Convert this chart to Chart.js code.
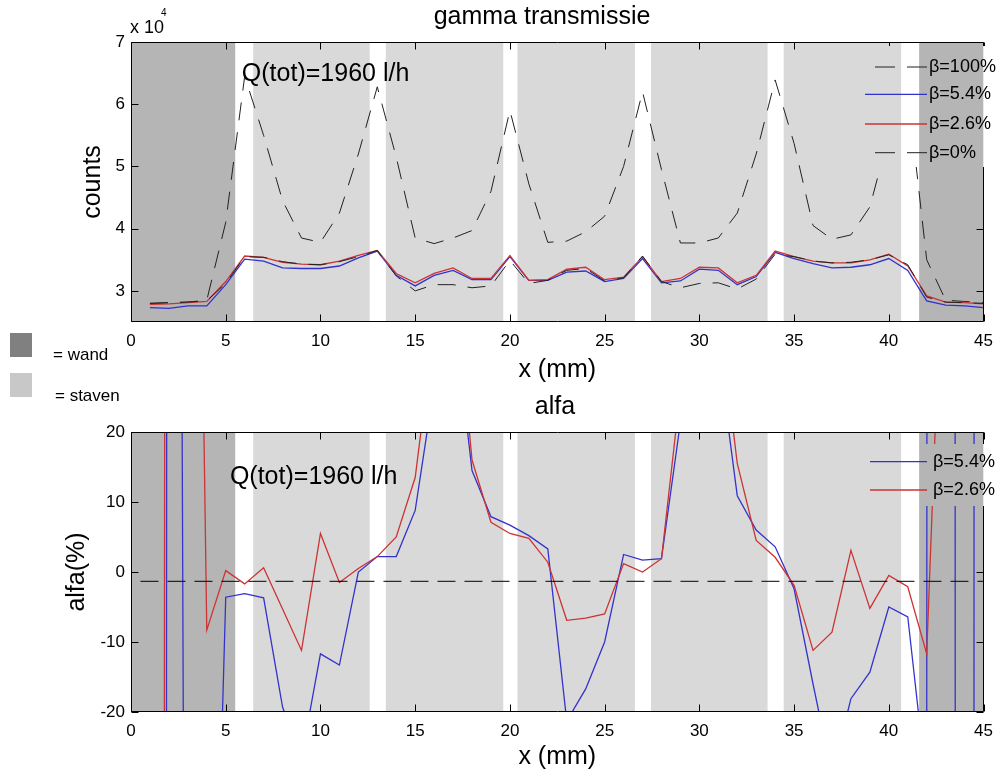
<!DOCTYPE html>
<html><head><meta charset="utf-8">
<script src="https://cdn.jsdelivr.net/npm/chart.js@4/dist/chart.umd.min.js"></script>
<style>
html,body{margin:0;padding:0;background:#fff;}
body{width:1002px;height:777px;position:relative;overflow:hidden;font-family:"Liberation Sans",Arial,sans-serif;}
#c1{position:absolute;left:0;top:0;}
#c2{position:absolute;left:0;top:390px;}
.sw{position:absolute;width:22px;height:24px;z-index:2;}
.lt{position:absolute;font-size:17px;line-height:17px;color:#000;z-index:2;white-space:nowrap;}
</style></head><body>
<canvas id="c1" width="1002" height="390"></canvas>
<canvas id="c2" width="1002" height="387"></canvas>
<div class="sw" style="left:10px;top:333px;background:#808080"></div>
<div class="lt" style="left:53px;top:346px">= wand</div>
<div class="sw" style="left:10px;top:373px;background:#c8c8c8"></div>
<div class="lt" style="left:55px;top:387px">= staven</div>
<script>
// ---------- data ----------
const xPos = [1,2,3,4,5,6,7,8,9,10,11,12,13,14,15,16,17,18,19,20,21,22,23,24,25,26,27,28,29,30,31,32,33,34,35,36,37,38,39,40,41,42,43,44,45];

const gamma100 = [28000,28100,28200,28500,41000,64500,55000,44500,38500,37800,
                  42500,52000,62800,51500,38500,37600,38500,39700,46000,59000,
                  47200,37800,38000,39500,42000,50000,62000,49500,37700,37700,
                  38500,42500,52000,63900,53700,40500,38300,39000,43500,55000,
                  62000,35000,28500,28300,28100];
const gamma54  = [27300,27200,27600,27600,31000,35100,34800,33700,33600,33600,
                  34000,35300,36400,32500,30800,32500,33300,31800,31800,35500,
                  31700,31700,33000,33200,31500,32000,35200,31300,31600,33500,
                  33300,31000,32300,36200,35200,34400,33700,33800,34200,35200,
                  33300,28400,27700,27600,27300];
const gamma26  = [27850,27900,28100,28300,31500,35600,35400,34600,34300,34200,
                  34800,35700,36500,32800,31300,32800,33700,32000,32000,35700,
                  31700,31800,33500,33800,31800,32200,35500,31500,32000,33800,
                  33700,31300,32500,36400,35500,34800,34500,34500,35000,35900,
                  34000,29200,28200,28100,27900];
const gamma0   = [28000,28100,28200,28400,31200,35500,35400,34700,34300,34200,
                  34700,35500,36500,32400,30000,31000,31000,30500,30800,34900,
                  31200,31700,33300,33600,31600,32100,35600,31500,30500,31200,
                  31300,30300,31900,35900,35500,34800,34500,34600,35000,35800,
                  34200,29000,28200,28100,28000];

const alfa54 = [-3600,500,-185,-100,-3.6,-3.1,-3.7,-19.3,-26.5,-11.7,
                -13.3,0,2.2,2.2,8.8,26.6,38,14.5,7.9,6.7,
                5.2,3.3,-21.3,-16.7,-10,2.5,1.7,1.9,21.4,45,
                31.6,10.9,6.0,3.6,-2.4,-16,-29,-18.1,-14.3,-5.0,
                -6.4,-30.7,5000,-6100,5000];
const alfa26 = [-2000,600,180,-8.3,0.2,-1.7,0.6,-5.3,-11.2,5.5,
                -1.5,0.5,2.2,5.0,13.5,35,45,16,7.1,5.5,
                4.8,1.4,-6.9,-6.6,-6.0,1.2,0.0,1.9,26,50,
                38,15.5,4.5,2.1,-1.9,-11.2,-8.6,3.1,-5.2,-0.5,
                -2.1,-11.7,60,250,180];
const alfaRefX = [0.5, 45];
const alfaRefY = [-1.33, -1.33];

const xTicks = [0,5,10,15,20,25,30,35,40,45];
const gammaTicks = [30000,40000,50000,60000,70000];
const alfaTicks = [-20,-10,0,10,20];

const wandZones = [[0,5.5],[41.6,45]];
const stavenZones = [[6.45,12.6],[13.45,19.65],[20.4,26.6],[27.45,33.6],[34.45,40.65]];

// ---------- helpers ----------
const FONT = "'Liberation Sans', Arial, Helvetica, sans-serif";
Chart.defaults.font.family = FONT;
Chart.defaults.color = '#000';

function pts(arr){ return xPos.map((x,i)=>({x:x, y:arr[i]})); }

function drawZones(chart){
  const ctx = chart.ctx, a = chart.chartArea, xs = chart.scales.x;
  ctx.save();
  ctx.beginPath(); ctx.rect(a.left, a.top, a.right-a.left, a.bottom-a.top); ctx.clip();
  const fill = (zones, col) => {
    ctx.fillStyle = col;
    zones.forEach(([s,e]) => {
      const p1 = xs.getPixelForValue(s), p2 = xs.getPixelForValue(e);
      ctx.fillRect(p1, a.top, p2-p1, a.bottom-a.top);
    });
  };
  fill(wandZones, '#b5b5b5');
  fill(stavenZones, '#d9d9d9');
  ctx.restore();
}

function decor(cfg){
  return {
    id: 'decor',
    beforeDatasetsDraw(chart){ drawZones(chart); },
    afterDatasetsDraw(chart){
      const ctx = chart.ctx, a = chart.chartArea, xs = chart.scales.x, ys = chart.scales.y;
      // frame + inner ticks
      ctx.save();
      ctx.strokeStyle = '#000'; ctx.lineWidth = 1; ctx.setLineDash([]);
      const L = Math.round(a.left)+0.5, R = Math.round(a.right)-0.5, T = Math.round(a.top)+0.5, B = Math.round(a.bottom)-0.5;
      ctx.beginPath();
      ctx.rect(L, T, R-L, B-T);
      xTicks.forEach(v => { const p = Math.round(xs.getPixelForValue(v))+0.5; ctx.moveTo(p,B); ctx.lineTo(p,B-7); ctx.moveTo(p,T); ctx.lineTo(p,T+7); });
      cfg.yTicks.forEach(v => { const p = Math.round(ys.getPixelForValue(v))+0.5; ctx.moveTo(L,p); ctx.lineTo(L+7,p); ctx.moveTo(R,p); ctx.lineTo(R-7,p); });
      ctx.stroke();
      ctx.restore();
      // legend box (painted like the background)
      const m = cfg.mask;
      ctx.save();
      ctx.beginPath(); ctx.rect(m.x, m.y, m.w, m.h); ctx.clip();
      ctx.fillStyle = '#fff'; ctx.fillRect(m.x, m.y, m.w, m.h);
      ctx.restore();
      ctx.save();
      ctx.beginPath(); ctx.rect(m.x, m.y, m.w, m.h); ctx.clip();
      drawZones(chart);
      ctx.restore();
      // legend entries
      ctx.save();
      ctx.font = '18px ' + FONT; ctx.textBaseline = 'middle'; ctx.textAlign = 'left'; ctx.fillStyle = '#000';
      cfg.legend.forEach(it => {
        const ds = chart.data.datasets[it.ds];
        ctx.strokeStyle = ds.borderColor; ctx.lineWidth = ds.borderWidth;
        ctx.setLineDash(ds.borderDash ? [20,12] : []);
        ctx.beginPath(); ctx.moveTo(it.x0, it.y); ctx.lineTo(it.x1, it.y); ctx.stroke();
        ctx.fillText(ds.label, it.tx, it.y);
      });
      ctx.setLineDash([]);
      // annotation
      ctx.font = '25px ' + FONT;
      ctx.fillText(cfg.note.text, xs.getPixelForValue(cfg.note.x), ys.getPixelForValue(cfg.note.y));
      // title
      ctx.textAlign = 'center';
      ctx.fillText(cfg.title.text, cfg.title.x, cfg.title.y);
      // exponent
      if (cfg.exp) {
        ctx.textAlign = 'left';
        ctx.font = '18px ' + FONT; ctx.fillText('x 10', cfg.exp.x, cfg.exp.y);
        ctx.font = '10px ' + FONT; ctx.fillText('4', cfg.exp.x + 31, cfg.exp.y - 15);
      }
      ctx.restore();
    }
  };
}

function xScale(){
  return {
    type: 'linear', min: 0, max: 45,
    grid: {display: false, drawTicks: false}, border: {display: false},
    afterBuildTicks: s => { s.ticks = xTicks.map(v => ({value: v})); },
    ticks: {font: {size: 17}, padding: 9, maxRotation: 0, autoSkip: false},
    title: {display: true, text: 'x (mm)', font: {size: 25}, padding: {top: 0, bottom: 5}}
  };
}

// ---------- top chart ----------
const xTop = xScale(); xTop.afterFit = s => { s.height = 68; };
new Chart(document.getElementById('c1'), {
  type: 'line',
  data: {datasets: [
    {label: 'β=100%', data: pts(gamma100), borderColor: '#222', borderWidth: 1, borderDash: [18,12], pointRadius: 0, tension: 0, order: 4},
    {label: 'β=5.4%', data: pts(gamma54), borderColor: '#3333cc', borderWidth: 1.3, pointRadius: 0, tension: 0, order: 3},
    {label: 'β=2.6%', data: pts(gamma26), borderColor: '#cc3333', borderWidth: 1.3, pointRadius: 0, tension: 0, order: 2},
    {label: 'β=0%', data: pts(gamma0), borderColor: '#222', borderWidth: 1, borderDash: [18,12], pointRadius: 0, tension: 0, order: 1}
  ]},
  options: {
    responsive: false, animation: false, events: [],
    layout: {padding: {top: 42, left: 0, right: 17, bottom: 0}},
    plugins: {legend: {display: false}, tooltip: {enabled: false}, title: {display: false}},
    scales: {
      x: xTop,
      y: {
        type: 'linear', min: 25000, max: 70000,
        grid: {display: false, drawTicks: false}, border: {display: false},
        afterBuildTicks: s => { s.ticks = gammaTicks.map(v => ({value: v})); },
        ticks: {font: {size: 17}, padding: 6, callback: v => String(v/10000)},
        title: {display: true, text: 'counts', font: {size: 25}, padding: {top: 78, bottom: 0}},
        afterFit: s => { s.width = 131; }
      }
    }
  },
  plugins: [decor({
    yTicks: gammaTicks,
    mask: {x: 858, y: 46, w: 144, h: 121},
    legend: [
      {ds: 0, x0: 875, x1: 927, tx: 929, y: 67},
      {ds: 1, x0: 865, x1: 927, tx: 929, y: 94.3},
      {ds: 2, x0: 865, x1: 927, tx: 929, y: 124},
      {ds: 3, x0: 875, x1: 927, tx: 929, y: 152.7}
    ],
    note: {text: 'Q(tot)=1960 l/h', x: 5.85, y: 64860},
    title: {text: 'gamma transmissie', x: 542, y: 17},
    exp: {x: 130, y: 28.5}
  })]
});

// ---------- bottom chart ----------
const xBot = xScale(); xBot.afterFit = s => { s.height = 65; };
new Chart(document.getElementById('c2'), {
  type: 'line',
  data: {datasets: [
    {label: 'β=5.4%', data: pts(alfa54), borderColor: '#3333cc', borderWidth: 1.3, pointRadius: 0, tension: 0, order: 3},
    {label: 'β=2.6%', data: pts(alfa26), borderColor: '#cc3333', borderWidth: 1.3, pointRadius: 0, tension: 0, order: 2},
    {label: 'ref', data: alfaRefX.map((x,i) => ({x: x, y: alfaRefY[i]})), borderColor: '#000', borderWidth: 1, borderDash: [18,9], pointRadius: 0, order: 1}
  ]},
  options: {
    responsive: false, animation: false, events: [],
    layout: {padding: {top: 42, left: 0, right: 17, bottom: 0}},
    plugins: {legend: {display: false}, tooltip: {enabled: false}, title: {display: false}},
    scales: {
      x: xBot,
      y: {
        type: 'linear', min: -20, max: 20,
        grid: {display: false, drawTicks: false}, border: {display: false},
        afterBuildTicks: s => { s.ticks = alfaTicks.map(v => ({value: v})); },
        ticks: {font: {size: 17}, padding: 6},
        title: {display: true, text: 'alfa(%)', font: {size: 25}, padding: {top: 62, bottom: 0}},
        afterFit: s => { s.width = 131; }
      }
    }
  },
  plugins: [decor({
    yTicks: alfaTicks,
    mask: {x: 858, y: 54, w: 144, h: 62},
    legend: [
      {ds: 0, x0: 870, x1: 927, tx: 933, y: 71.7},
      {ds: 1, x0: 870, x1: 927, tx: 933, y: 100}
    ],
    note: {text: 'Q(tot)=1960 l/h', x: 5.22, y: 13.5},
    title: {text: 'alfa', x: 555, y: 17.5}
  })]
});
</script>
</body></html>
